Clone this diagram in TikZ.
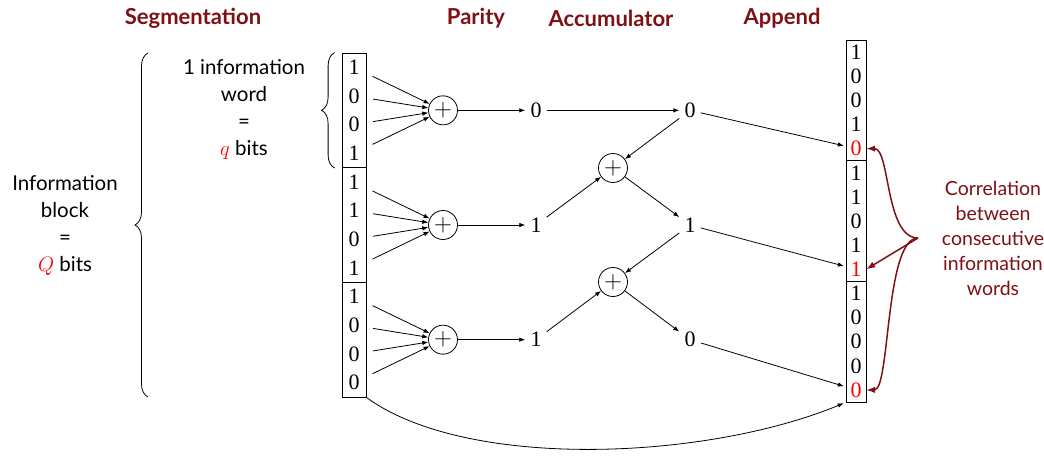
\documentclass[tikz,border=0pt]{standalone}
\usepackage{fontspec}
\setsansfont{Lato}
\newfontfamily\bitfont{Liberation Serif}
\usetikzlibrary{arrows.meta,positioning,calc,decorations.pathreplacing}
\definecolor{ENDark}{HTML}{7F1014}
\definecolor{ENRed}{HTML}{FF0000}
\tikzset{
  flow/.style={-{Latex[length=6pt,width=4.5pt]},line width=0.8pt},
  corrflow/.style={-{Latex[length=9pt,width=6.5pt]},ENDark,line width=1.5pt},
  xorbox/.style={circle,draw,line width=0.8pt,minimum size=29pt,inner sep=0pt,
                 font=\fontsize{23}{24}\selectfont},
  bit/.style={font=\bitfont\fontsize{22}{24}\selectfont,inner sep=5pt},
  cellbit/.style={font=\bitfont\fontsize{22}{24}\selectfont,inner sep=0pt,minimum height=22pt},
  wordbox/.style={draw,line width=0.8pt,minimum width=24pt,minimum height=114.67pt,inner sep=0pt},
  appbox/.style={draw,line width=0.8pt,minimum width=20pt,minimum height=120.67pt,inner sep=0pt},
  brace/.style={decorate,decoration={brace,amplitude=13pt},line width=0.8pt},
  head/.style={text=ENDark,font=\sffamily\bfseries\fontsize{22}{26}\selectfont},
  note/.style={font=\sffamily\fontsize{20.5}{27}\selectfont,align=center},
  corrnote/.style={note,text=ENDark,font=\sffamily\fontsize{19.5}{25}\selectfont},
}

\begin{document}
\begin{tikzpicture}[x=1pt,y=-1pt]
    \useasboundingbox (0,0) rectangle (1044,461);
    % headings
    \node[head] (hseg) at (193,18) {Segmentation};
    \node[head] (hpar) at (476,18) {Parity};
    \node[head] (hacc) at (611,18) {Accumulator};
    \node[head] (happ) at (782,18) {Append};

    % segmentation: block -> words
    \node[note] (block) at (65,225) {Information\\block\\=\\{\color{ENRed}$Q$} bits};
    \node[note] (word) at (244,109) {1 information\\word\\=\\{\color{ENRed}$q$} bits};
    \draw[brace] (148,397) -- (148,53);

    % information words, parity per word
    \foreach \g/\yc/\bits/\pbit in {A/110.33/{1,0,0,1}/0,B/225/{1,1,0,1}/1,C/339.67/{1,0,0,0}/1} {
      \node[wordbox] (word\g) at (354,\yc) {};
      \node[xorbox] (px\g) at (443,\yc) {$+$};
      \node[bit] (p\g) at (536,\yc) {\pbit};
      \foreach \b [count=\i] in \bits {
        \node[cellbit,minimum width=24pt] (b\g\i) at (354,{\yc+(\i-2.5)*28.67}) {\b};
        \draw[flow,shorten <=7pt] (b\g\i) -- (px\g);
      }
      \draw[flow] (px\g) -- (p\g);
    }
    \draw[brace] ([xshift=-7pt]wordA.south west) -- ([xshift=-7pt]wordA.north west);

    % accumulator
    \node[bit] (aA) at (690,110.33) {0};
    \node[bit] (aB) at (690,225) {1};
    \node[bit] (aC) at (690,339.67) {0};
    \node[xorbox] (axA) at (613,168) {$+$};
    \node[xorbox] (axB) at (613,282) {$+$};
    \draw[flow] (pA) -- (aA);
    \draw[flow] (aA) -- (axA);
    \draw[flow] (pB) -- (axA);
    \draw[flow] (axA) -- (aB);
    \draw[flow] (aB) -- (axB);
    \draw[flow] (pC) -- (axB);
    \draw[flow] (axB) -- (aC);

    % appended words
    \foreach \g/\yc/\bits/\last in {A/100.33/{1,0,0,1}/0,B/221/{1,1,0,1}/1,C/341.67/{1,0,0,0}/0} {
      \node[appbox] (ap\g) at (856,\yc) {};
      \foreach \b [count=\i] in \bits {
        \node[cellbit,minimum width=20pt] (r\g\i) at (856,{\yc+(\i-3)*24.13}) {\b};
      }
      \node[cellbit,minimum width=20pt,text=ENRed] (r\g5) at (856,{\yc+2*24.13}) {\last};
      \draw[flow,shorten >=2pt] (a\g) -- (r\g5);
    }
    \draw[flow,shorten >=2pt] (wordC.south east) .. controls +(100,73) and +(-140,58) .. (apC.south west);

    % correlation between consecutive words
    \coordinate (corr) at (918,238);
    \node[corrnote] (corrtext) at (993,238) {Correlation\\between\\consecutive\\information\\words};
    \draw[corrflow] (corr) .. controls +(-33,0) and +(24,0) .. (rA5.east);
    \draw[corrflow] (corr) -- (rB5.east);
    \draw[corrflow] (corr) .. controls +(-33,0) and +(24,0) .. (rC5.east);
  \end{tikzpicture}
\end{document}
